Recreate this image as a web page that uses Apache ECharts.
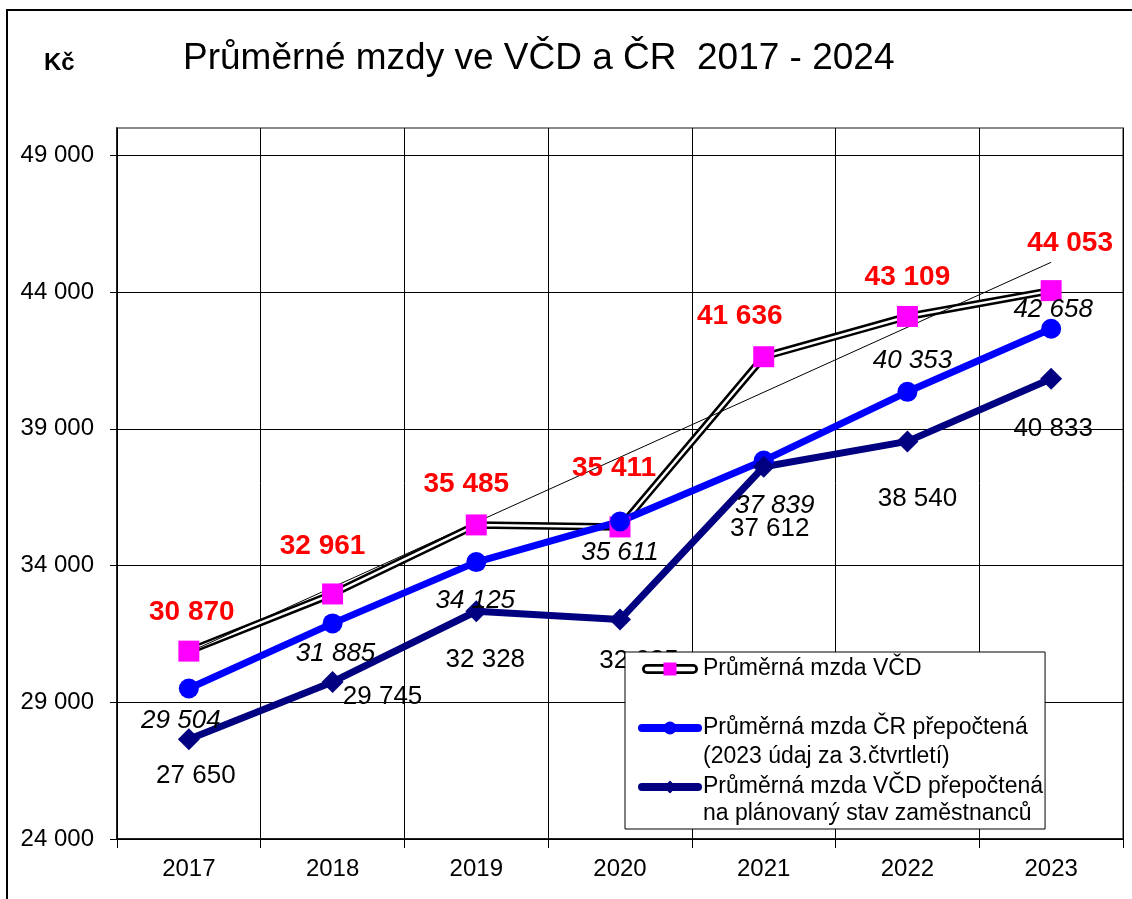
<!DOCTYPE html>
<html>
<head>
<meta charset="utf-8">
<script src="https://cdn.jsdelivr.net/npm/echarts@6/dist/echarts.min.js"></script>
<style>
  html, body { margin: 0; padding: 0; background: #ffffff; }
  #chart { width: 1132px; height: 899px; }
</style>
</head>
<body>
<div id="chart"></div>
<script>
// ---- data ----
const years = ['2017', '2018', '2019', '2020', '2021', '2022', '2023'];
const vcdWage = [30870, 32961, 35485, 35411, 41636, 43109, 44053];
const crWage = [29504, 31885, 34125, 35611, 37839, 40353, 42658];
const vcdPlanWage = [27650, 29745, 32328, 32025, 37612, 38540, 40833];
// linear trend of the VČD wage: value at the first and at the last year
const vcdTrendEnds = [30830, 45090];
const yTickValues = [24000, 29000, 34000, 39000, 44000, 49000];

const vcdName = 'Průměrná mzda VČD';
const crName = 'Průměrná mzda ČR přepočtená';
const planName = 'Průměrná mzda VČD přepočtená';
// second lines of the two longer legend entries
const crNote = '(2023 údaj za 3.čtvrtletí)';
const planNote = 'na plánovaný stav zaměstnanců';

// ---- label placement (pixel offsets from each point) ----
const vcdLabelOffsets = [[3, -39], [-10, -48], [-10, -41], [-6, -59], [-24, -40], [0, -39], [19, -47]];
const crLabelOffsets = [[-8, 32], [3, 30], [-1, 39], [0, 31], [11, 45], [5, -31], [2, -19]];
const planLabelOffsets = [[7, 37], [50, 15], [9, 49], [19, 41], [6, 62], [10, 57], [2, 50]];

const FONT = '"Liberation Sans", Arial, Helvetica, sans-serif';
const fmt = v => String(v).replace(/\B(?=(\d{3})+(?!\d))/g, ' ');
const withOffsets = (values, offsets) =>
  values.map((v, i) => ({ value: v, label: { offset: offsets[i] } }));

// trend line: only the two end points, joined across the gap
const trendData = years.map((_, i) =>
  i === 0 ? vcdTrendEnds[0] : (i === years.length - 1 ? vcdTrendEnds[1] : null));

// double line legend icon (black outline, white core, magenta square)
const vcdIconSvg =
  "<svg xmlns='http://www.w3.org/2000/svg' width='56' height='16' viewBox='0 0 56 16'>" +
  "<line x1='5' y1='8' x2='51' y2='8' stroke='#000' stroke-width='10' stroke-linecap='round'/>" +
  "<line x1='5' y1='8' x2='51' y2='8' stroke='#fff' stroke-width='4.5' stroke-linecap='round'/>" +
  "<rect x='21.5' y='1.5' width='13' height='13' fill='#ff00ff'/></svg>";
const vcdIcon = 'image://data:image/svg+xml;charset=utf-8,' + encodeURIComponent(vcdIconSvg);

// legend geometry
const LEGEND_LEFT = 625, LEGEND_TOP = 652, LEGEND_PAD_LEFT = 13, LEGEND_ICON_W = 56;
const LEGEND_TEXT_X = 703;
const LEGEND_FONT = 23;

const chart = echarts.init(document.getElementById('chart'), null, { renderer: 'canvas' });

const noteText = (text, y) => ({
  type: 'text',
  z: 10,
  silent: true,
  x: LEGEND_TEXT_X,
  y: y,
  style: {
    text: text,
    fontFamily: FONT,
    fontSize: LEGEND_FONT,
    fill: '#000',
    align: 'left',
    verticalAlign: 'middle'
  }
});

const option = {
  animation: false,
  backgroundColor: '#ffffff',
  textStyle: { fontFamily: FONT, color: '#000' },
  title: {
    text: 'Průměrné mzdy ve VČD a ČR  2017 - 2024',
    left: 183,
    top: 40.5,
    padding: 0,
    textStyle: { fontFamily: FONT, fontSize: 37, fontWeight: 'normal', color: '#000' }
  },
  graphic: [
    {
      type: 'rect',
      silent: true,
      z: 0,
      shape: { x: 7, y: 10, width: 1300, height: 1100 },
      style: { fill: 'none', stroke: '#000', lineWidth: 2 }
    },
    {
      type: 'text',
      x: 44,
      y: 63,
      style: {
        text: 'Kč',
        fontFamily: FONT,
        fontSize: 24,
        fontWeight: 'bold',
        fill: '#000',
        align: 'left',
        verticalAlign: 'middle'
      }
    },
    noteText(crNote, 757),
    noteText(planNote, 814)
  ],
  grid: {
    left: 117,
    right: 9,
    top: 128,
    bottom: 60,
    show: true,
    borderColor: '#8a8a8a',
    borderWidth: 2,
    backgroundColor: 'transparent'
  },
  legend: {
    orient: 'vertical',
    left: LEGEND_LEFT,
    top: LEGEND_TOP,
    padding: [3, 2, 28, LEGEND_PAD_LEFT],
    itemGap: 31,
    itemWidth: LEGEND_ICON_W,
    itemHeight: 16,
    backgroundColor: '#ffffff',
    borderColor: '#000',
    borderWidth: 1,
    borderRadius: 0,
    selectedMode: false,
    lineStyle: { width: 8, cap: 'round' },
    textStyle: { fontFamily: FONT, fontSize: LEGEND_FONT, lineHeight: 28, color: '#000' },
    data: [
      { name: vcdName, icon: vcdIcon },
      { name: crName },
      { name: planName }
    ]
  },
  xAxis: {
    type: 'category',
    data: years,
    boundaryGap: true,
    axisLine: { show: true, lineStyle: { color: '#000', width: 1.5 } },
    axisTick: { show: true, length: 9, lineStyle: { color: '#000', width: 1 } },
    axisLabel: { fontFamily: FONT, fontSize: 24, color: '#000', margin: 18 },
    splitLine: { show: true, lineStyle: { color: '#000', width: 1 } }
  },
  yAxis: {
    type: 'value',
    min: 24000,
    max: 50000,
    axisLine: { show: true, lineStyle: { color: '#000', width: 1.5 } },
    axisTick: { show: true, length: 7, customValues: yTickValues, lineStyle: { color: '#000', width: 1 } },
    axisLabel: {
      customValues: yTickValues,
      fontFamily: FONT,
      fontSize: 24,
      color: '#000',
      margin: 23,
      formatter: v => fmt(v)
    },
    splitLine: { show: true, lineStyle: { color: '#000', width: 1 } }
  },
  series: [
    // VČD wage: outer black stroke of the double line
    {
      name: vcdName,
      type: 'line',
      data: vcdWage,
      symbol: 'none',
      color: '#000',
      lineStyle: { color: '#000', width: 7.5 },
      silent: true
    },
    // VČD wage: white core of the double line
    {
      name: vcdName,
      type: 'line',
      data: vcdWage,
      symbol: 'none',
      lineStyle: { color: '#ffffff', width: 2.5 },
      silent: true
    },
    // VČD wage: magenta markers with red values
    {
      name: vcdName,
      type: 'line',
      data: withOffsets(vcdWage, vcdLabelOffsets),
      symbol: 'rect',
      symbolSize: 21,
      itemStyle: { color: '#ff00ff' },
      lineStyle: { width: 0, opacity: 0 },
      label: {
        show: true,
        position: 'inside',
        fontFamily: FONT,
        fontSize: 28,
        fontWeight: 'bold',
        color: '#ff0000',
        formatter: p => fmt(p.value)
      }
    },
    // linear trend of the VČD wage
    {
      name: 'Lineární (Průměrná mzda VČD)',
      type: 'line',
      data: trendData,
      connectNulls: true,
      symbol: 'none',
      lineStyle: { color: '#000', width: 1 },
      silent: true
    },
    {
      name: crName,
      type: 'line',
      data: withOffsets(crWage, crLabelOffsets),
      symbol: 'circle',
      symbolSize: 20,
      color: '#0000ff',
      itemStyle: { color: '#0000ff' },
      lineStyle: { color: '#0000ff', width: 7 },
      label: {
        show: true,
        position: 'inside',
        fontFamily: FONT,
        fontSize: 26,
        fontStyle: 'italic',
        color: '#000',
        formatter: p => fmt(p.value)
      }
    },
    {
      name: planName,
      type: 'line',
      data: withOffsets(vcdPlanWage, planLabelOffsets),
      symbol: 'diamond',
      symbolSize: 22,
      color: '#000080',
      itemStyle: { color: '#000080' },
      lineStyle: { color: '#000080', width: 7 },
      label: {
        show: true,
        position: 'inside',
        fontFamily: FONT,
        fontSize: 26,
        color: '#000',
        formatter: p => fmt(p.value)
      }
    }
  ]
};

chart.setOption(option);
</script>
</body>
</html>
